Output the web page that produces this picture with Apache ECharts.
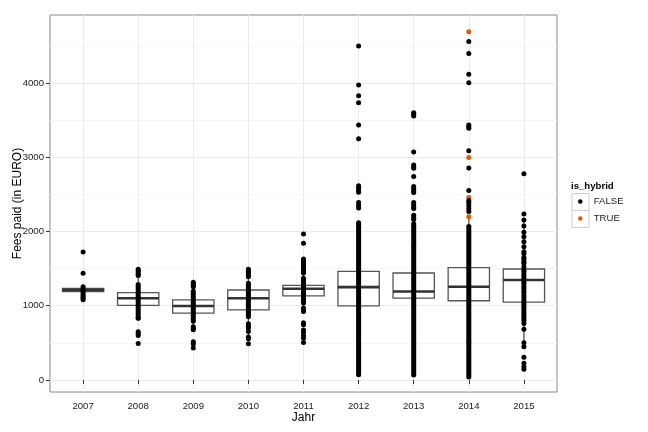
<!DOCTYPE html>
<html>
<head>
<meta charset="utf-8">
<script src="https://cdn.jsdelivr.net/npm/echarts@6/dist/echarts.min.js"></script>
<style>html,body{margin:0;padding:0;background:#fff;}#c{width:648px;height:432px;}</style>
</head>
<body>
<div id="c"></div>
<script>
// ---- data ----
const years = ['2007','2008','2009','2010','2011','2012','2013','2014','2015'];
const yTicks = [0, 1000, 2000, 3000, 4000];
const yMinorTicks = [500, 1500, 2500, 3500, 4500];
// box stats: whisker low, Q1, median, Q3, whisker high
const boxLow  = [1145,  840,  680,  560,  930,  300,  600,  400,  440];
const boxQ1   = [1190, 1006,  901,  943, 1134,  999, 1103, 1067, 1049];
const boxMed  = [1212, 1100,  997, 1101, 1229, 1251, 1192, 1255, 1347];
const boxQ3   = [1235, 1176, 1080, 1212, 1273, 1464, 1441, 1513, 1495];
const boxHigh = [1260, 1420, 1310, 1480, 1460, 2110, 1940, 2170, 2167];
// densely packed runs of FALSE points: [yearIndex, from, to]
const denseFalse = [[0,1140,1257],[1,834,1285],[2,790,1195],[3,850,1302],[4,1036,1370],[4,1440,1628],[5,70,2119],[6,68,2104],[7,40,2067]];
// individual FALSE points per year
const p2007 = [1724, 1437, 1120, 1100, 1080];
const p2008 = [1490, 1470, 1450, 1425, 1407, 830, 651, 630, 600, 492];
const p2009 = [1316, 1295, 1275, 1257, 718, 695, 676, 516, 485, 430];
const p2010 = [1491, 1465, 1440, 1415, 1392, 756, 725, 700, 653, 578, 555, 487];
const p2011 = [1966, 1843, 970, 945, 922, 772, 745, 673, 640, 600, 561, 505];
const p2012 = [4498, 3972, 3828, 3733, 3434, 3250, 2617, 2585, 2555, 2528, 2391, 2350, 2315];
const p2013 = [3600, 3578, 3556, 3071, 2896, 2870, 2851, 2740, 2606, 2578, 2550, 2525, 2391, 2360, 2330, 2310, 2220, 2190, 2160];
const p2014 = [4559, 4397, 4117, 4004, 3434, 3410, 3390, 3088, 2855, 2552, 2418, 2390, 2350, 2310, 2270];
const p2015 = [2778, 2236, 2155, 2074, 1989, 1930, 1863, 1796, 1728, 1700, 1650, 1625, 1594, 1571, 1526, 1480, 1459, 1420, 1392, 1360, 1324, 1300, 1266, 1240, 1212, 1180, 1145, 1110, 1077, 1050, 1023, 995, 965, 935, 907, 880, 853, 825, 799, 760, 683, 503, 449, 306, 225, 179, 144];
const falseByYear = [p2007, p2008, p2009, p2010, p2011, p2012, p2013, p2014, p2015];
// TRUE (hybrid) points per year
const t2013 = [1795];
const t2014 = [4691, 2997, 2458, 2200, 503];
const trueByYear = [[], [], [], [], [], [], t2013, t2014, []];

// ---- build ----
const boxData = years.map((y, i) => [i, boxLow[i], boxQ1[i], boxMed[i], boxQ3[i], boxHigh[i]]);
const toPairs = arr => arr.flatMap((vals, i) => vals.map(v => [i, v]));
const falsePts = toPairs(falseByYear);
const truePts = toPairs(trueByYear);

const FONT = "'Liberation Sans', Arial, Helvetica, sans-serif";
const Y_MIN = -162, Y_MAX = 4916;

const chart = echarts.init(document.getElementById('c'), null, {renderer: 'canvas'});
chart.setOption({
  animation: false,
  backgroundColor: '#ffffff',
  textStyle: {fontFamily: FONT},
  grid: [
    {left: 50, top: 15, width: 507, height: 377, show: true, borderColor: '#888', borderWidth: 1, backgroundColor: '#fff', containLabel: false, outerBoundsMode: 'none'},
    {left: 83.1, top: 15, width: 440.8, height: 377, containLabel: false, outerBoundsMode: 'none'}
  ],
  xAxis: [
    {gridIndex: 0, type: 'value', min: 0, max: 1, show: false},
    {gridIndex: 1, type: 'category', data: years, boundaryGap: false,
     axisLine: {show: false},
     axisTick: {show: true, interval: 0, length: 4, lineStyle: {color: '#333', width: 1}},
     axisLabel: {interval: 0, margin: 9, fontSize: 9.6, color: '#1a1a1a', fontFamily: FONT},
     splitLine: {show: true, interval: 0, lineStyle: {color: '#ebebeb', width: 1}},
     name: 'Jahr', nameLocation: 'middle', nameGap: 20, nameMoveOverlap: false,
     nameTextStyle: {fontSize: 12, color: '#000', fontFamily: FONT}}
  ],
  yAxis: [
    {gridIndex: 0, type: 'value', min: Y_MIN, max: Y_MAX,
     axisLine: {show: false},
     axisTick: {show: true, length: 4, customValues: yTicks, lineStyle: {color: '#333', width: 1}},
     axisLabel: {customValues: yTicks, margin: 6, fontSize: 9.6, color: '#1a1a1a', fontFamily: FONT, formatter: v => String(v)},
     splitLine: {show: true, lineStyle: {color: '#ebebeb', width: 1}},
     name: 'Fees paid (in EURO)', nameLocation: 'middle', nameGap: 26, nameMoveOverlap: false,
     nameTextStyle: {fontSize: 12, color: '#000', fontFamily: FONT}},
    {gridIndex: 0, type: 'value', min: Y_MIN, max: Y_MAX, position: 'left',
     axisLine: {show: false}, axisLabel: {show: false},
     axisTick: {show: false, customValues: yMinorTicks},
     splitLine: {show: true, lineStyle: {color: '#f6f6f6', width: 1}}},
    {gridIndex: 1, type: 'value', min: Y_MIN, max: Y_MAX, show: false}
  ],
  legend: {
    orient: 'vertical', left: 573, top: 191.5, itemWidth: 17, itemHeight: 4.5, itemGap: 7,
    data: ['FALSE', 'TRUE'], selectedMode: false, z: 5,
    textStyle: {fontSize: 9.6, color: '#1a1a1a', fontFamily: FONT}
  },
  graphic: [
    {type: 'text', left: 571, top: 181, z: 1, style: {text: 'is_hybrid', font: "bold 9.6px 'Liberation Sans', Arial, sans-serif", fill: '#000'}},
    {type: 'rect', left: 571.5, top: 193, z: 1, shape: {width: 17, height: 17}, style: {fill: '#fff', stroke: '#cccccc', lineWidth: 1}},
    {type: 'rect', left: 571.5, top: 210, z: 1, shape: {width: 17, height: 17}, style: {fill: '#fff', stroke: '#cccccc', lineWidth: 1}}
  ],
  series: [
    {
      type: 'custom', name: 'box', xAxisIndex: 1, yAxisIndex: 2, data: boxData, z: 2,
      renderItem: function (params, api) {
        const x = api.value(0);
        const lo = api.coord([x, api.value(1)]);
        const q1 = api.coord([x, api.value(2)]);
        const md = api.coord([x, api.value(3)]);
        const q3 = api.coord([x, api.value(4)]);
        const hi = api.coord([x, api.value(5)]);
        const bw = api.size([1, 0])[0] * 0.75;
        const cx = lo[0];
        const ls = {stroke: '#555', lineWidth: 1.3, fill: null};
        return {type: 'group', children: [
          {type: 'line', shape: {x1: cx, y1: hi[1], x2: cx, y2: q3[1]}, style: ls},
          {type: 'line', shape: {x1: cx, y1: q1[1], x2: cx, y2: lo[1]}, style: ls},
          {type: 'rect', shape: {x: cx - bw / 2, y: q3[1], width: bw, height: q1[1] - q3[1]}, style: {fill: '#fff', stroke: '#555', lineWidth: 1.3}},
          {type: 'line', shape: {x1: cx - bw / 2, y1: md[1], x2: cx + bw / 2, y2: md[1]}, style: {stroke: '#333', lineWidth: 2.6}}
        ]};
      }
    },
    {
      type: 'scatter', name: 'TRUE', xAxisIndex: 1, yAxisIndex: 2, data: truePts, z: 3,
      symbol: 'circle', symbolSize: 5, itemStyle: {color: '#D95F02', opacity: 1}
    },
    {
      type: 'custom', name: 'FALSE dense', xAxisIndex: 1, yAxisIndex: 2, data: denseFalse, z: 4,
      renderItem: function (params, api) {
        const x = api.value(0);
        const a = api.coord([x, api.value(1)]);
        const b = api.coord([x, api.value(2)]);
        return {type: 'rect', shape: {x: a[0] - 2.5, y: b[1] - 2.5, width: 5, height: a[1] - b[1] + 5, r: 2.5}, style: {fill: '#000'}};
      }
    },
    {
      type: 'scatter', name: 'FALSE', xAxisIndex: 1, yAxisIndex: 2, data: falsePts, z: 4,
      symbol: 'circle', symbolSize: 5, itemStyle: {color: '#000', opacity: 1}
    }
  ]
});
</script>
</body>
</html>
